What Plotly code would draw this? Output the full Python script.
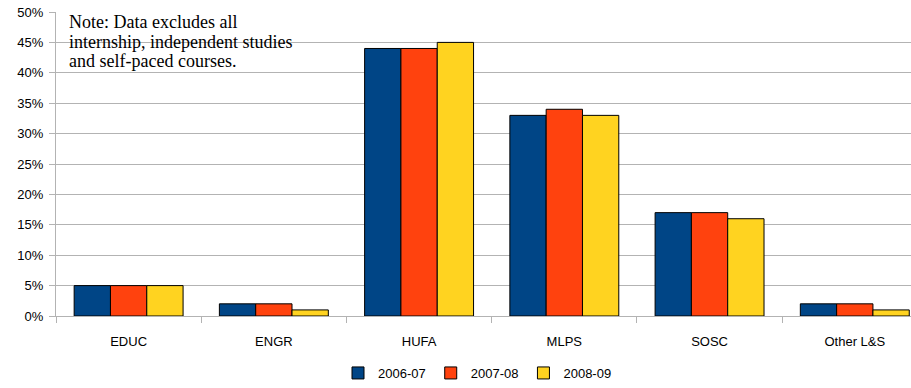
import plotly.graph_objects as go

categories = ["EDUC", "ENGR", "HUFA", "MLPS", "SOSC", "Other L&S"]
s2006 = [5, 2, 44, 33, 17, 2]
s2007 = [5, 2, 44, 34, 17, 2]
s2008 = [5, 1, 45, 33, 16, 1]
series_names = ["2006-07", "2007-08", "2008-09"]
colors = ["#004586", "#ff420e", "#ffd320"]
note_lines = ["Note: Data excludes all", "internship, independent studies", "and self-paced courses."]

W, H = 911, 388
L, R, T, B = 56, 0, 12, 68
ph = H - T - B
pw = W - L - R

fig = go.Figure()
for name, vals, c in zip(series_names, [s2006, s2007, s2008], colors):
    fig.add_trace(go.Bar(
        x=categories, y=[v / 100 for v in vals], name=name,
        marker=dict(color=c, line=dict(color="#000000", width=1)),
    ))

annotations = []
for i, line in enumerate(note_lines):
    ypix = 22 + i * 20
    annotations.append(dict(
        text=line, xref="paper", yref="paper",
        x=(67 - L) / pw, y=(H - B - ypix) / ph, xanchor="left", yanchor="middle",
        align="left", showarrow=False,
        font=dict(family="Liberation Serif, Times New Roman, serif", size=18, color="#000000"),
    ))

fig.update_layout(
    width=W, height=H,
    margin=dict(l=L, r=R, t=T, b=B),
    paper_bgcolor="white", plot_bgcolor="white",
    barmode="group", bargap=0.25, bargroupgap=0,
    font=dict(family="Liberation Sans, Arial, sans-serif", size=13, color="#000000"),
    showlegend=True,
    legend=dict(orientation="h", x=0.493, xanchor="center", y=(H - B - 378) / ph, yanchor="middle",
                font=dict(size=13), itemwidth=30, traceorder="normal"),
    xaxis=dict(
        automargin=False,
        range=[-0.5, 5.387],
        showline=True, linecolor="#b3b3b3", linewidth=1,
        ticks="outside", tickson="boundaries", ticklen=6, tickcolor="#b3b3b3",
        ticklabelstandoff=13,
        showgrid=False,
    ),
    yaxis=dict(
        automargin=False,
        range=[0, 0.5], dtick=0.05, tickformat=".0%",
        showgrid=True, gridcolor="#b3b3b3", gridwidth=1,
        showline=True, linecolor="#b3b3b3", linewidth=1,
        ticks="outside", ticklen=6, tickcolor="#b3b3b3",
        ticklabelstandoff=3,
        zeroline=False,
    ),
    annotations=annotations,
)

fig.write_html("out.html", config={"displayModeBar": False},
               post_script="document.body.style.margin='0';document.body.style.overflow='hidden';")
